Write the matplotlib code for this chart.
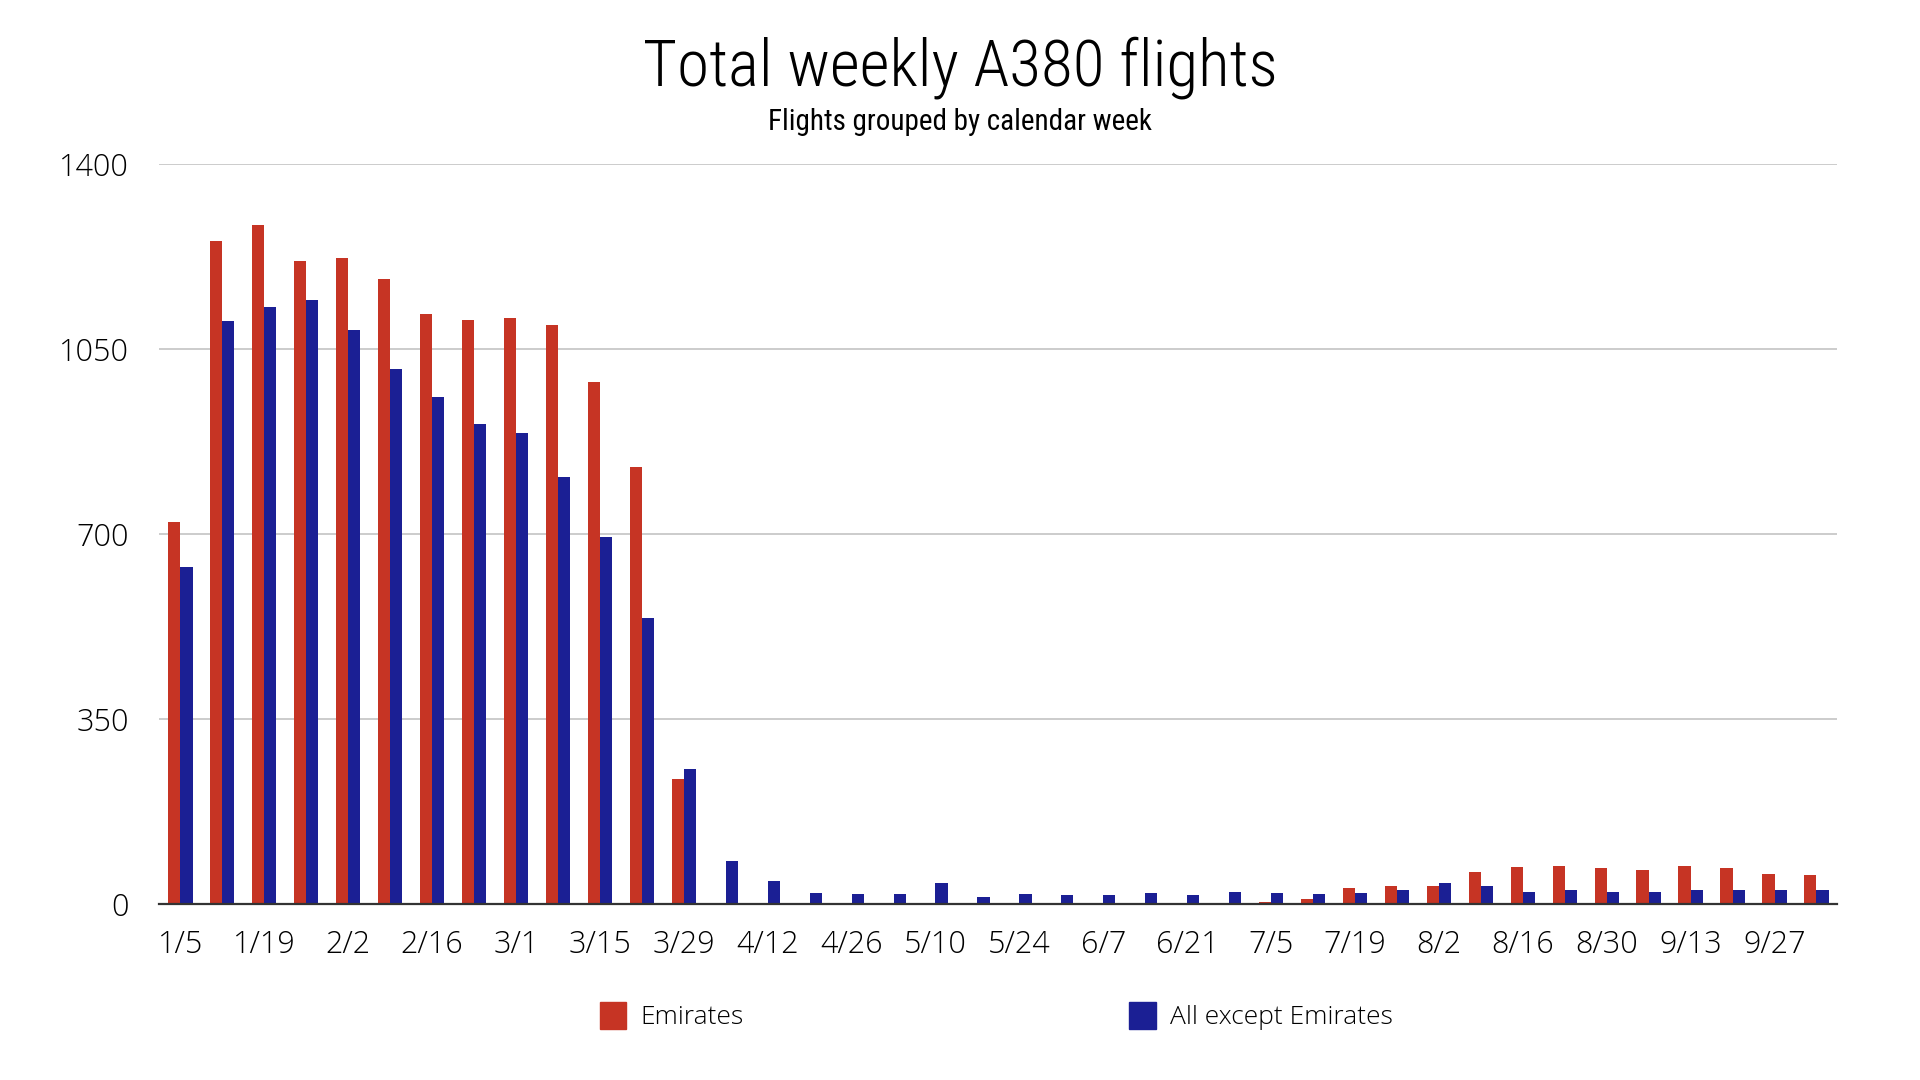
import numpy as np
import matplotlib
matplotlib.use("Agg")
import matplotlib.pyplot as plt
from matplotlib.patches import Patch

# weekly data
weeks = ["1/5", "1/12", "1/19", "1/26", "2/2", "2/9", "2/16", "2/23", "3/1", "3/8",
         "3/15", "3/22", "3/29", "4/5", "4/12", "4/19", "4/26", "5/3", "5/10", "5/17",
         "5/24", "5/31", "6/7", "6/14", "6/21", "6/28", "7/5", "7/12", "7/19", "7/26",
         "8/2", "8/9", "8/16", "8/23", "8/30", "9/6", "9/13", "9/20", "9/27", "10/4"]
emirates = [723, 1254, 1284, 1217, 1223, 1183, 1117, 1105, 1109, 1095,
            988, 826, 236, 0, 2, 0, 0, 0, 0, 0,
            0, 0, 0, 0, 0, 2, 3, 9, 31, 34,
            34, 61, 69, 72, 68, 64, 72, 68, 56, 55]
others = [638, 1104, 1130, 1142, 1087, 1013, 960, 908, 891, 808,
          694, 541, 256, 81, 43, 20, 18, 18, 40, 14,
          18, 17, 17, 20, 17, 22, 20, 18, 20, 26,
          40, 34, 23, 26, 22, 23, 27, 27, 27, 27]
yticks = [0, 350, 700, 1050, 1400]

red = "#c63424"
blue = "#1b1f94"
narrow = ["Roboto Condensed", "Liberation Sans Narrow", "Roboto", "DejaVu Sans"]
body = ["Open Sans", "DejaVu Sans"]

fig = plt.figure(figsize=(19.2, 10.8), dpi=100, facecolor="white")
ax = fig.add_axes([0.083, 0.163, 0.874, 0.685])

x = np.arange(len(weeks))
w = 0.29
ax.bar(x - w / 2, emirates, width=w, color=red, zorder=3)
ax.bar(x + w / 2, others, width=w, color=blue, zorder=3)

ax.set_xlim(-0.5, len(weeks) - 0.5)
ax.set_ylim(0, 1400)
ax.set_yticks(yticks)
ax.set_yticklabels([str(v) for v in yticks], family=body, fontsize=22,
                   fontweight="light", color="black")
ax.set_xticks(x[::2])
ax.set_xticklabels(weeks[::2], family=body, fontsize=22,
                   fontweight="light", color="black")
ax.tick_params(axis="both", length=0)
ax.tick_params(axis="y", pad=22)
ax.tick_params(axis="x", pad=18)

ax.grid(axis="y", color="#c4c4c4", linewidth=1.2, zorder=0)
for s in ["top", "right", "left"]:
    ax.spines[s].set_visible(False)
ax.spines["bottom"].set_color("#333333")
ax.spines["bottom"].set_linewidth(1.6)
ax.spines["bottom"].set_zorder(4)

fig.text(0.5, 0.937, "Total weekly A380 flights", family=narrow, fontsize=47,
         fontweight="light", fontstretch="condensed",
         ha="center", va="center", color="black")
fig.text(0.5, 0.887, "Flights grouped by calendar week", family=narrow, fontsize=21,
         fontstretch="condensed", ha="center", va="center", color="black")

handles = [Patch(color=red, label="Emirates"), Patch(color=blue, label="All except Emirates")]
fig.legend(handles=handles, loc="center", bbox_to_anchor=(0.519, 0.059), ncol=2,
           frameon=False, prop={"family": body, "size": 19, "weight": "light"},
           handlelength=1.0, handleheight=1.2, handletextpad=0.55, columnspacing=14.6)

fig.savefig("out.png", dpi=100, facecolor="white")
